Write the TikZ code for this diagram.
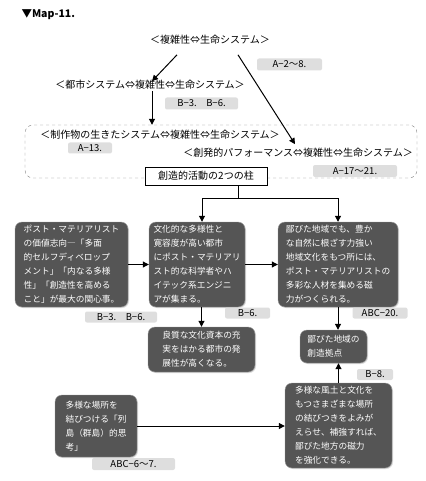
\documentclass[tikz,border=0pt]{standalone}
\usepackage{fontspec}
\setmainfont{Noto Sans CJK JP}
\usepackage{xcolor}
\usepackage{tikz}
\usetikzlibrary{arrows.meta, positioning, calc, shadows}
\definecolor{gelap}{HTML}{555555}
\definecolor{abu}{HTML}{DEDEDE}
\begin{document}
\begin{tikzpicture}[
    x=1pt, y=-1pt,
    teks/.style={inner sep=1pt, font=\fontsize{10}{12}\selectfont},
    kode/.style={fill=abu, rounded corners=2pt, inner sep=0pt, minimum height=12pt,
                 font=\fontsize{9.5}{10}\selectfont},
    kotak/.style={fill=gelap, draw=gray!80, rounded corners=7pt, align=left, text=white,
                  inner sep=0pt, font=\fontsize{8.7}{14}\selectfont,
                  drop shadow={shadow xshift=1pt, shadow yshift=-1pt, opacity=0.3}},
    bingkai/.style={draw=gray, dashed, rounded corners=8pt, minimum width=392pt, minimum height=53pt},
    pilar/.style={draw, fill=white, minimum width=122pt, minimum height=18pt, inner sep=0pt,
                  font=\fontsize{10}{12}\selectfont},
    panah/.style={-{Triangle[length=6pt, width=6pt]}, line width=1pt},
    garis/.style={line width=1pt}
  ]
    \useasboundingbox (0,0) rectangle (425,481);
    \node[anchor=west, font=\bfseries\fontsize{10.5}{12}\selectfont] (judul) at (18,15) {▼Map-11.};

    % bagian atas
    \node[teks] (sistem) at (210,40) {＜複雑性⇔生命システム＞};
    \node[kode, minimum width=65pt] (k1) at (289.5,64.5) {A−2〜8.};
    \node[teks] (kota) at (150,85) {＜都市システム⇔複雑性⇔生命システム＞};
    \node[kode, minimum width=73pt] (k2) at (201.5,103.5) {B−3.　B−6.};

    \node[bingkai] (bingkai) at (221,151.5) {};
    \node[teks] (karya) at (160,135) {＜制作物の生きたシステム⇔複雑性⇔生命システム＞};
    \node[kode, minimum width=44pt, minimum height=11pt] (k3) at (90,148) {A−13.};
    \node[teks] (emergen) at (298,153) {＜創発的パフォーマンス⇔複雑性⇔生命システム＞};
    \node[kode, minimum width=84pt] (k4) at (355,171) {A−17〜21.};
    \node[pilar] (pilar) at (206,176) {創造的活動の2つの柱};

    \draw[panah] ($(sistem.south)+(-33,9)$) -- ($(kota.north)+(2,2)$);
    \draw[panah] ($(sistem.south)+(28,9)$) -- ($(emergen.north)+(-3,-3)$);
    \draw[panah] ([xshift=2pt]kota.south) -- ([xshift=2pt]kota.south |- bingkai.north);

    % dua pilar
    \node[kotak, minimum width=113pt, minimum height=85pt] (pasca) at (71.5,264.5)
      {ポスト・マテリアリスト\\の価値志向―「多面\\的セルフディベロップ\\メント」「内なる多様\\性」「創造性を高める\\こと」が最大の関心事。};
    \node[kotak, minimum width=96pt, minimum height=85pt] (budaya) at (197,264.5)
      {文化的な多様性と\\寛容度が高い都市\\にポスト・マテリアリ\\スト的な科学者やハ\\イテック系エンジニ\\アが集まる。};
    \node[kotak, minimum width=120pt, minimum height=85pt] (desa) at (338,264.5)
      {鄙びた地域でも、豊か\\な自然に根ざす力強い\\地域文化をもつ所には、\\ポスト・マテリアリストの\\多彩な人材を集める磁\\力がつくられる。};
    \node[kode, minimum width=72pt, minimum height=11pt] (k5) at (121,317) {B−3.　B−6.};
    \node[kode, minimum width=45pt, minimum height=11pt] (k6) at (247.5,313) {B−6.};
    \node[kode, minimum width=55pt, minimum height=11pt] (k7) at (380,313) {ABC−20.};

    \coordinate (cabang) at (238,198);
    \draw[garis] (pilar.south -| cabang) -- (cabang);
    \draw[panah] (cabang) -| ([xshift=5pt]budaya.north);
    \draw[panah] (cabang) -| (desa.north);
    \draw[panah] (pasca) -- (budaya);
    \draw[panah] (budaya) -- (desa);

    % bagian bawah
    \node[kotak, minimum width=107pt, minimum height=45pt] (mutu) at (201.5,349.5)
      {良質な文化資本の充\\実をはかる都市の発\\展性が高くなる。};
    \node[kotak, minimum width=67pt, minimum height=33pt] (pusat) at (333.5,346.5)
      {鄙びた地域の\\創造拠点};
    \node[kode, minimum width=36pt, minimum height=11pt] (k8) at (375,374.5) {B−8.};
    \node[kotak, minimum width=107pt, minimum height=85pt] (ikatan) at (338.5,425.5)
      {多様な風土と文化を\\もつさまざまな場所\\の結びつきをよみが\\えらせ、補強すれば、\\鄙びた地方の磁力\\を強化できる。};
    \node[kotak, minimum width=82pt, minimum height=62pt] (pulau) at (96,426)
      {多様な場所を\\結びつける「列\\島（群島）的思\\考」};
    \node[kode, minimum width=83pt] (k9) at (133.5,464) {ABC−6〜7.};

    \draw[panah] (budaya.south -| mutu) -- (mutu.north);
    \draw[panah] (desa.south) -- (desa.south |- pusat.north);
    \draw[panah] (ikatan.north) -- (ikatan.north |- pusat.south);
    \draw[panah] (pulau.east) -- (pulau.east -| ikatan.west);
  \end{tikzpicture}
\end{document}
